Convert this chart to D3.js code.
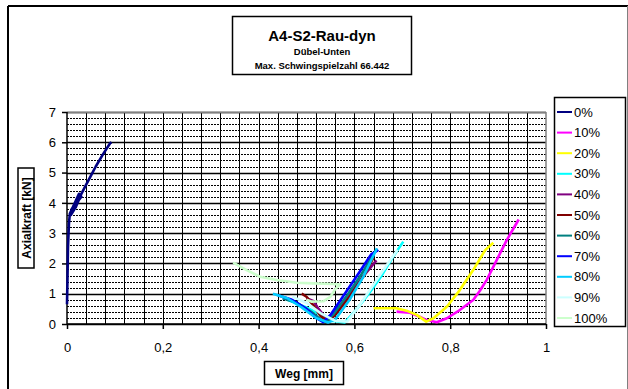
<!DOCTYPE html>
<html><head><meta charset="utf-8">
<script src="https://cdn.jsdelivr.net/npm/d3@7"></script>
<style>body{margin:0;background:#fff}svg{display:block;font-family:"Liberation Sans",Arial,sans-serif}</style>
</head><body>
<svg id="c" width="628" height="389"></svg>
<script>
const titleLines = ["A4-S2-Rau-dyn", "Dübel-Unten", "Max. Schwingspielzahl 66.442"];
const xLabel = "Weg [mm]";
const yLabel = "Axialkraft [kN]";
const xTicks = [0, 0.2, 0.4, 0.6, 0.8, 1];
const xTickLabels = ["0", "0,2", "0,4", "0,6", "0,8", "1"];
const yTicks = [0, 1, 2, 3, 4, 5, 6, 7];
const seriesNames = ["0%", "10%", "20%", "30%", "40%", "50%", "60%", "70%", "80%", "90%", "100%"];
const seriesColors = ["#000080", "#FF00FF", "#FFFF00", "#00FFFF", "#800080", "#800000", "#008080", "#0000FF", "#00CCFF", "#CCFFFF", "#CCFFCC"];

const s0 = [[0,0.65],[0.001,1.5],[0.002,2.5],[0.004,3.3],[0.006,3.65],[0.015,3.95],[0.025,4.3],[0.03,4.2],[0.02,4.0],[0.01,3.8],[0.008,3.6],[0.018,3.85],[0.03,4.3],[0.04,4.6],[0.05,4.9],[0.06,5.2],[0.075,5.6],[0.09,5.97],[0.093,6.0]];
const s10 = [[0.688,0.41],[0.716,0.37],[0.735,0.25],[0.751,0.13],[0.772,0.06],[0.793,0.19],[0.82,0.46],[0.848,0.79],[0.862,1.1],[0.876,1.45],[0.897,2.11],[0.918,2.77],[0.943,3.45]];
const s20 = [[0.64,0.52],[0.688,0.52],[0.709,0.44],[0.73,0.3],[0.75,0.08],[0.765,0.19],[0.793,0.57],[0.82,1.12],[0.848,1.78],[0.873,2.44],[0.89,2.68]];
const s30 = [[0.46,0.8],[0.5,0.55],[0.53,0.3],[0.555,0.1],[0.58,0.05],[0.6,0.4],[0.63,1.0],[0.655,1.55],[0.68,2.2],[0.702,2.72]];
const s40 = [[0.5,0.85],[0.515,0.75],[0.525,0.5],[0.535,0.3],[0.545,0.2],[0.56,0.4],[0.59,1.0],[0.62,1.6],[0.646,2.1]];
const s50 = [[0.49,1.0],[0.5,0.9],[0.515,0.6],[0.53,0.25],[0.545,0.1],[0.56,0.3],[0.59,0.9],[0.62,1.6],[0.64,2.2]];
const s60 = [[0.45,0.85],[0.48,0.7],[0.51,0.4],[0.53,0.15],[0.54,0.08],[0.555,0.3],[0.585,0.95],[0.615,1.65],[0.64,2.3]];
const s70 = [[0.44,0.95],[0.47,0.8],[0.5,0.5],[0.52,0.2],[0.535,0.06],[0.55,0.3],[0.58,1.0],[0.61,1.7],[0.635,2.3],[0.65,2.45]];
const s80 = [[0.43,1.0],[0.46,0.85],[0.49,0.55],[0.52,0.2],[0.545,0.05],[0.56,0.15],[0.59,0.8],[0.62,1.6],[0.647,2.5]];
const s90 = [[0.47,0.9],[0.5,0.7],[0.53,0.35],[0.56,0.1],[0.585,0.08],[0.61,0.6],[0.64,1.3],[0.67,2.0],[0.69,2.45]];
const s100 = [[0.347,2.03],[0.375,1.78],[0.403,1.56],[0.438,1.45],[0.48,1.36],[0.514,1.34],[0.556,1.32],[0.57,1.3],[0.56,1.15],[0.55,0.9],[0.535,0.75],[0.51,0.74],[0.5,0.8]];
const seriesData = [s0, s10, s20, s30, s40, s50, s60, s70, s80, s90, s100];

const svg = d3.select("#c");
const L = 67, R = 546, T = 112, B = 324;
const x = d3.scaleLinear().domain([0, 1]).range([L, R]);
const y = d3.scaleLinear().domain([0, 7]).range([B, T]);

// outer frame
svg.append("line").attr("x1",8).attr("y1",6).attr("x2",8).attr("y2",389).attr("stroke","#000").attr("stroke-width",2);
svg.append("line").attr("x1",8).attr("y1",6).attr("x2",628).attr("y2",6).attr("stroke","#000").attr("stroke-width",2);
svg.append("line").attr("x1",627.5).attr("y1",6).attr("x2",627.5).attr("y2",389).attr("stroke","#808080").attr("stroke-width",1);

// grid
const g = svg.append("g");
const minorY = d3.range(0, 7.0001, 0.2);
g.selectAll(".hy").data(minorY).join("line")
  .attr("x1", L).attr("x2", R)
  .attr("y1", d => Math.round(y(d)) + 0.5).attr("y2", d => Math.round(y(d)) + 0.5)
  .attr("stroke", "#000")
  .attr("stroke-width", d => Math.abs(d - Math.round(d)) < 1e-6 ? 1.3 : 1)
  .attr("stroke-dasharray", d => Math.abs(d - Math.round(d)) < 1e-6 ? null : "2,1");
const minorX = d3.range(0.04, 1.0, 0.04);
g.selectAll(".vx").data(minorX).join("line")
  .attr("x1", d => Math.round(x(d)) + 0.5).attr("x2", d => Math.round(x(d)) + 0.5)
  .attr("y1", T).attr("y2", B)
  .attr("stroke", "#000").attr("stroke-width", 1);

// plot border top/right grey
svg.append("line").attr("x1",L).attr("x2",R).attr("y1",T+0.5).attr("y2",T+0.5).attr("stroke","#808080").attr("stroke-width",1.5);
svg.append("line").attr("x1",R).attr("x2",R).attr("y1",T).attr("y2",B).attr("stroke","#808080").attr("stroke-width",1.5);

// axes
const xAxis = d3.axisBottom(x).tickValues(xTicks).tickFormat((d,i) => xTickLabels[i]).tickSize(5).tickPadding(14);
const yAxis = d3.axisLeft(y).tickValues(yTicks).tickFormat(d3.format("d")).tickSize(5).tickPadding(6);
const gx = svg.append("g").attr("transform", `translate(0,${B})`).call(xAxis);
const gy = svg.append("g").attr("transform", `translate(${L},0)`).call(yAxis);
[gx, gy].forEach(a => {
  a.select(".domain").attr("stroke", "#000").attr("stroke-width", 1.5);
  a.selectAll(".tick line").attr("stroke", "#000").attr("stroke-width", 1.5);
  a.selectAll("text").attr("font-size", 13).attr("fill", "#000").attr("font-family", '"Liberation Sans",Arial,sans-serif');
});
gy.select(".domain").attr("d", `M0,${B}V${T}`);
gx.select(".domain").attr("d", `M${L},0H${R}`);

// series
const line = d3.line().x(d => x(d[0])).y(d => y(d[1]));
svg.append("g").selectAll("path").data(seriesData).join("path")
  .attr("d", line).attr("fill", "none")
  .attr("stroke", (d, i) => seriesColors[i])
  .attr("stroke-width", 2.6).attr("stroke-linejoin", "round");

// title
const tg = svg.append("g");
tg.append("rect").attr("x",232.5).attr("y",16.5).attr("width",179).attr("height",58).attr("fill","#fff").attr("stroke","#000").attr("stroke-width",1.5);
tg.append("text").attr("x",322).attr("y",41).attr("text-anchor","middle").attr("font-weight","bold").attr("font-size",15).text(titleLines[0]);
tg.append("text").attr("x",322).attr("y",55).attr("text-anchor","middle").attr("font-weight","bold").attr("font-size",9.5).text(titleLines[1]);
tg.append("text").attr("x",322).attr("y",69).attr("text-anchor","middle").attr("font-weight","bold").attr("font-size",9.5).text(titleLines[2]);

// y label
const yl = svg.append("g").attr("transform","translate(26,218) rotate(-90)");
yl.append("rect").attr("x",-50).attr("y",-8).attr("width",100).attr("height",16).attr("fill","#fff").attr("stroke","#000").attr("stroke-width",1.5);
yl.append("text").attr("x",0).attr("y",4.5).attr("text-anchor","middle").attr("font-weight","bold").attr("font-size",12).text(yLabel);

// x label
svg.append("rect").attr("x",264.5).attr("y",361.5).attr("width",79).attr("height",23).attr("fill","#fff").attr("stroke","#000").attr("stroke-width",1.5);
svg.append("text").attr("x",304).attr("y",377.5).attr("text-anchor","middle").attr("font-weight","bold").attr("font-size",12).text(xLabel);

// legend
const lg = svg.append("g");
lg.append("rect").attr("x",554.5).attr("y",97.5).attr("width",71).attr("height",229).attr("fill","#fff").attr("stroke","#000").attr("stroke-width",1.5);
const items = lg.selectAll(".it").data(seriesNames).join("g").attr("transform",(d,i)=>`translate(0,${112 + i*20.6})`);
items.append("line").attr("x1",557).attr("x2",572).attr("y1",0).attr("y2",0).attr("stroke",(d,i)=>seriesColors[i]).attr("stroke-width",2);
items.append("text").attr("x",574).attr("y",4.5).attr("font-size",13).text(d=>d);
</script>
</body></html>
